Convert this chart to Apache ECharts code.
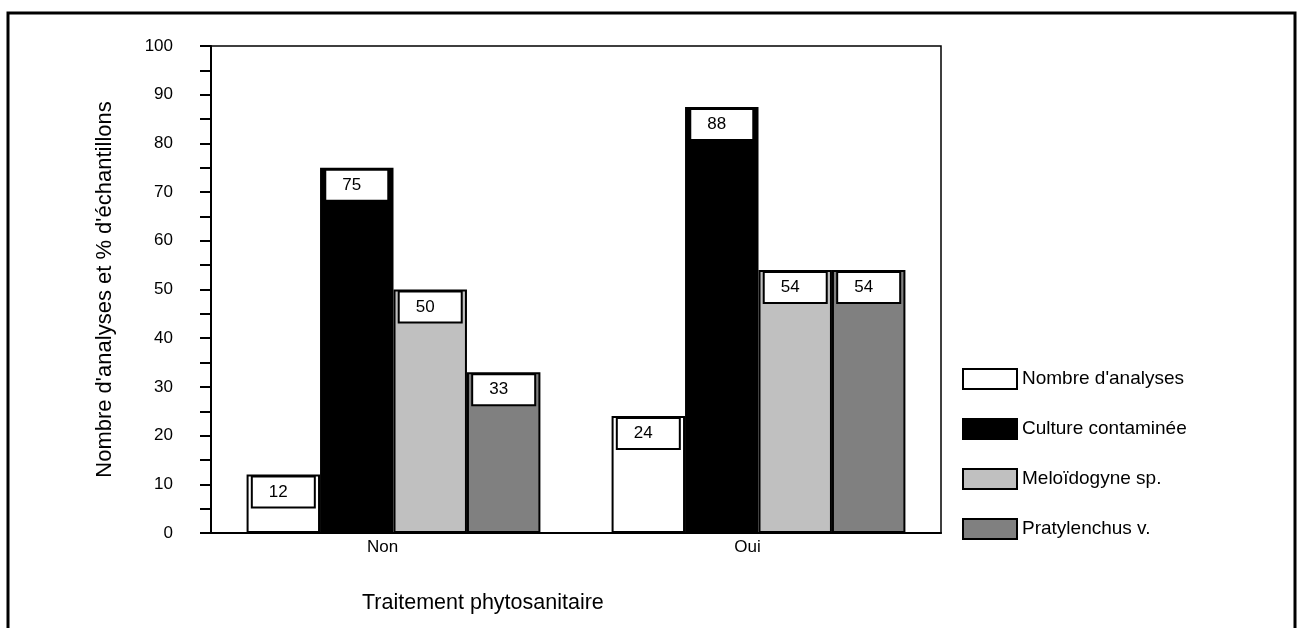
<!DOCTYPE html>
<html>
<head>
<meta charset="utf-8">
<script src="https://cdn.jsdelivr.net/npm/echarts@6/dist/echarts.min.js"></script>
<style>
  html, body { margin: 0; padding: 0; background: #fff; }
  #main { width: 1297px; height: 628px; }
</style>
</head>
<body>
<div id="main"></div>
<script>
// data
const categories = ['Non', 'Oui'];
const seriesNames = ['Nombre d\'analyses', 'Culture contaminée', 'Meloïdogyne sp.', 'Pratylenchus v.'];
const nombreAnalyses = [12, 24];
const cultureContaminee = [75, 87.5];
const meloidogyne = [50, 54];
const pratylenchus = [33, 54];
const barColors = ['#ffffff', '#000000', '#c0c0c0', '#808080'];

const FONT = '"Liberation Sans", Arial, sans-serif';

function makeBar(name, values, color) {
  return {
    name: name,
    type: 'bar',
    data: values,
    barGap: '0%',
    barCategoryGap: '19.5%',
    itemStyle: { color: color, borderColor: '#000', borderWidth: 2 },
    label: {
      show: true,
      position: 'insideTop',
      distance: 3,
      formatter: p => Math.round(p.value),
      color: '#000',
      fontFamily: FONT,
      fontSize: 17,
      lineHeight: 19,
      width: 45,
      padding: [5, 13, 5, 3],
      backgroundColor: '#fff',
      borderColor: '#000',
      borderWidth: 2
    }
  };
}

const chart = echarts.init(document.getElementById('main'));
chart.setOption({
  animation: false,
  backgroundColor: '#fff',
  grid: {
    left: 211, right: 356, top: 46, bottom: 95,
    show: true, borderColor: '#000', borderWidth: 1.5
  },
  title: {
    text: 'Traitement phytosanitaire',
    left: 362, top: 592, padding: 0,
    textStyle: { fontFamily: FONT, fontSize: 21.5, fontWeight: 'normal', color: '#000' }
  },
  legend: {
    orient: 'vertical',
    left: 957, top: 363,
    itemWidth: 54, itemHeight: 20, itemGap: 28,
    icon: 'rect',
    data: seriesNames,
    textStyle: { fontFamily: FONT, fontSize: 19, lineHeight: 20, color: '#000' }
  },
  xAxis: {
    type: 'category',
    data: categories,
    axisLine: { lineStyle: { color: '#000', width: 2 } },
    axisTick: { alignWithLabel: true, length: 7, lineStyle: { color: '#000', width: 1 } },
    axisLabel: { color: '#000', fontFamily: FONT, fontSize: 17, margin: 6, padding: [0, 22, 0, 0] }
  },
  yAxis: {
    type: 'value',
    min: 0, max: 100, interval: 10,
    name: 'Nombre d\'analyses et % d\'échantillons',
    nameLocation: 'middle',
    nameGap: 95,
    nameTextStyle: { fontFamily: FONT, fontSize: 22, color: '#000' },
    axisLine: { show: true, lineStyle: { color: '#000', width: 2 } },
    axisTick: { show: true, length: 11, lineStyle: { color: '#000', width: 2 } },
    minorTick: { show: true, splitNumber: 2, length: 11, lineStyle: { color: '#000', width: 2 } },
    splitLine: { show: false },
    axisLabel: { color: '#000', fontFamily: FONT, fontSize: 17, margin: 38 }
  },
  graphic: [{
    type: 'rect',
    shape: { x: 8, y: 13, width: 1287, height: 700 },
    style: { fill: null, stroke: '#000', lineWidth: 3 },
    silent: true
  }],
  series: [
    makeBar(seriesNames[0], nombreAnalyses, barColors[0]),
    makeBar(seriesNames[1], cultureContaminee, barColors[1]),
    makeBar(seriesNames[2], meloidogyne, barColors[2]),
    makeBar(seriesNames[3], pratylenchus, barColors[3])
  ]
});
</script>
</body>
</html>
